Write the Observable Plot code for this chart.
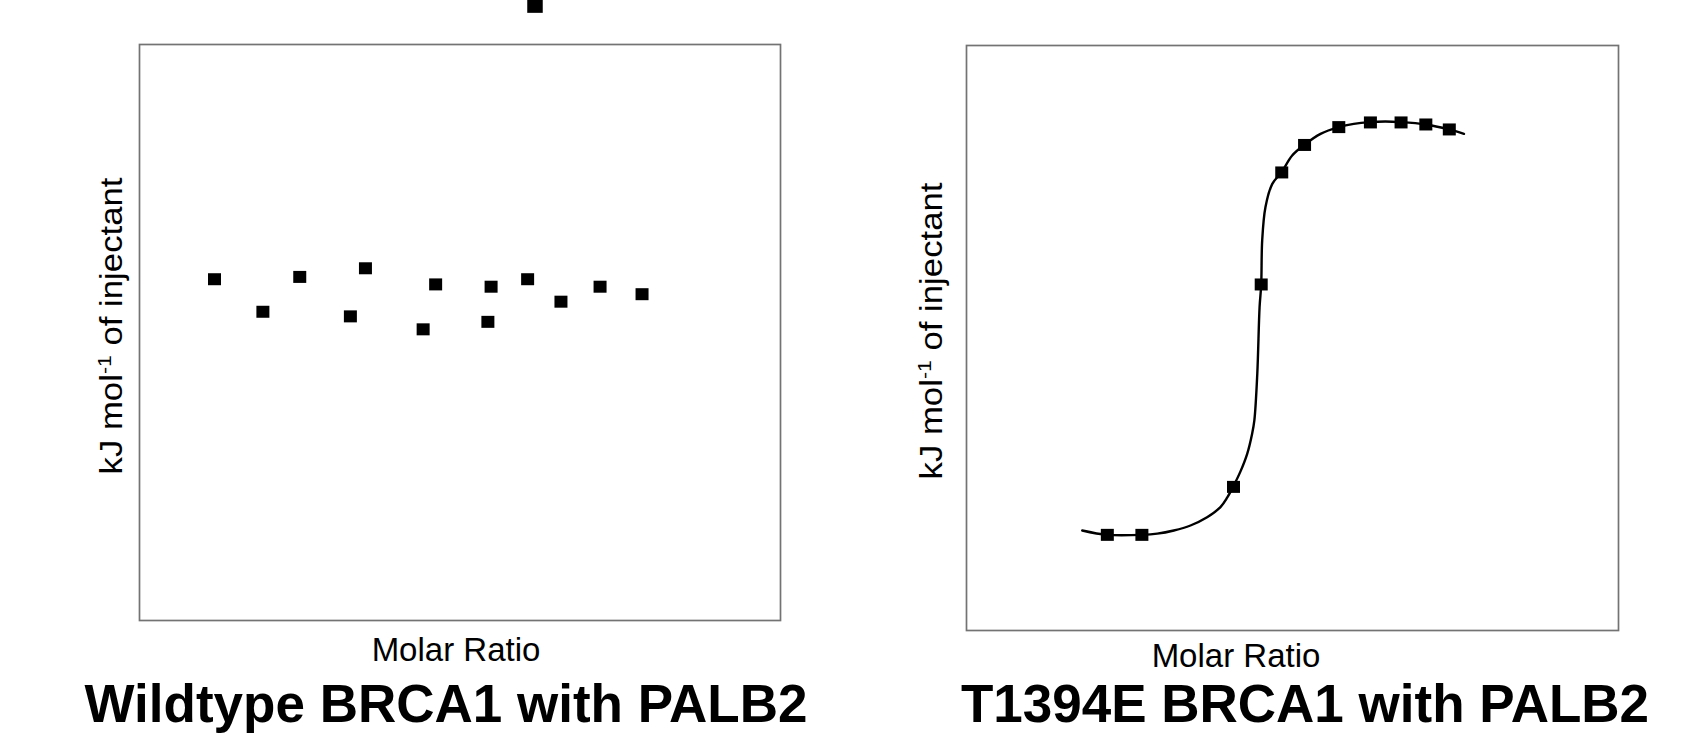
<!DOCTYPE html>
<html>
<head>
<meta charset="utf-8">
<script src="https://cdn.jsdelivr.net/npm/d3@7"></script>
<script src="https://cdn.jsdelivr.net/npm/@observablehq/plot@0.6"></script>
<style>
  html, body { margin: 0; padding: 0; background: #fff; }
  #page { position: relative; width: 1689px; height: 734px; overflow: hidden; background: #fff;
          font-family: "Liberation Sans", Arial, Helvetica, sans-serif; color: #000; }
  .abs { position: absolute; white-space: nowrap; line-height: 1; }
  .plotbox { position: absolute; top: 0; }
  .plotbox svg { max-width: none !important; overflow: visible; }
  .ylab { font-size: 31px; transform: translate(-50%, -50%) rotate(-90deg) scaleX(1.12); }
  .ylab sup { font-size: 19px; vertical-align: 0; position: relative; top: -11px; }
  .xlab { font-size: 33px; transform: translateX(-50%); }
  .title { font-size: 53px; font-weight: bold; transform: translateX(-50%); }
</style>
</head>
<body>
<div id="page"></div>
<script>
// ---- Data (no tick labels: arbitrary linear units) ----
// Wildtype BRCA1 with PALB2: injection heats
const wtMolarRatio = [0.234, 0.385, 0.500, 0.658, 0.705, 0.885, 0.924, 1.087, 1.097, 1.211, 1.315, 1.437, 1.568];
const wtHeat       = [1.85, 0.72, 1.93, 0.56, 2.23, 0.11, 1.67, 0.37, 1.59, 1.85, 1.07, 1.59, 1.33];

// fragment of a marker from a panel above (cut off at the top edge)
const strayMolarRatio = [1.234];
const strayHeat       = [11.37];

// T1394E BRCA1 with PALB2: injection heats
const mutMolarRatio = [0.432, 0.538, 0.819, 0.904, 0.967, 1.037, 1.142, 1.239, 1.333, 1.409, 1.481];
const mutHeat       = [-6.73, -6.73, -5.09, 1.83, 5.66, 6.60, 7.21, 7.37, 7.37, 7.30, 7.13];

// T1394E fitted curve
const fitMolarRatio = [0.355, 0.432, 0.539, 0.585, 0.636, 0.687, 0.738, 0.779, 0.800, 0.818, 0.8405, 0.861,
                       0.876, 0.883, 0.892, 0.899, 0.904, 0.907, 0.917, 0.938, 0.966, 0.999, 1.037, 1.086,
                       1.142, 1.188, 1.237, 1.285, 1.331, 1.408, 1.480, 1.526];
const fitHeat       = [-6.58, -6.73, -6.73, -6.69, -6.58, -6.41, -6.13, -5.78, -5.45, -5.08, -4.56, -3.96,
                       -3.28, -2.82, -1.22, 1.05, 1.83, 3.33, 4.47, 5.27, 5.66, 6.24, 6.61, 6.98,
                       7.21, 7.32, 7.38, 7.40, 7.38, 7.30, 7.13, 6.98];

const panelTitles = ["Wildtype BRCA1 with PALB2", "T1394E BRCA1 with PALB2"];
const xAxisLabel = "Molar Ratio";
const yAxisLabelMain = "kJ mol";
const yAxisLabelSup = "-1";
const yAxisLabelRest = " of injectant";

// ---- build tables ----
const wt = wtMolarRatio.map((x, i) => ({x, y: wtHeat[i]}));
const stray = strayMolarRatio.map((x, i) => ({x, y: strayHeat[i]}));
const mut = mutMolarRatio.map((x, i) => ({x, y: mutHeat[i]}));
const fit = fitMolarRatio.map((x, i) => ({x, y: fitHeat[i]}));

// filled square marker, slightly wider than tall
const squareSymbol = {
  draw(context) {
    const w = 13, h = 12;
    context.moveTo(-w / 2, -h / 2);
    context.lineTo(w / 2, -h / 2);
    context.lineTo(w / 2, h / 2);
    context.lineTo(-w / 2, h / 2);
    context.closePath();
  }
};
// the cut-off marker at the top edge (only its lower part is visible)
const clippedSquareSymbol = {
  draw(context) {
    context.moveTo(-7.75, -20);
    context.lineTo(7.75, -20);
    context.lineTo(7.75, 7.8);
    context.lineTo(-7.75, 7.8);
    context.closePath();
  }
};

const frameStyle = {stroke: "#737373", strokeWidth: 1.7};
const page = document.getElementById("page");

function addPlot(left, options) {
  const box = document.createElement("div");
  box.className = "plotbox";
  box.style.left = left + "px";
  box.appendChild(Plot.plot(options));
  page.appendChild(box);
}

// Left panel: frame at x 139..780, y 44..620
addPlot(0, {
  width: 800, height: 640,
  marginLeft: 139, marginRight: 20, marginTop: 44, marginBottom: 20,
  x: {domain: [0, 2], axis: null},
  y: {domain: [-10, 10], axis: null},
  marks: [
    Plot.frame(frameStyle),
    Plot.dot(wt, {x: "x", y: "y", symbol: squareSymbol, r: 7, fill: "#000", stroke: "none"}),
    Plot.dot(stray, {x: "x", y: "y", symbol: clippedSquareSymbol, r: 7, fill: "#000", stroke: "none"})
  ]
});

// Right panel: frame at x 966..1618, y 45..630
addPlot(946, {
  width: 743, height: 650,
  marginLeft: 20, marginRight: 71, marginTop: 45, marginBottom: 20,
  x: {domain: [0, 2], axis: null},
  y: {domain: [-10, 10], axis: null},
  marks: [
    Plot.frame(frameStyle),
    Plot.line(fit, {x: "x", y: "y", curve: "catmull-rom", stroke: "#000", strokeWidth: 2.4}),
    Plot.dot(mut, {x: "x", y: "y", symbol: squareSymbol, r: 7, fill: "#000", stroke: "none"})
  ]
});

function addText(cls, left, top, html) {
  const d = document.createElement("div");
  d.className = "abs " + cls;
  d.style.left = left + "px";
  d.style.top = top + "px";
  d.innerHTML = html;
  page.appendChild(d);
  return d;
}
const yl = yAxisLabelMain + "<sup>" + yAxisLabelSup + "</sup>" + yAxisLabelRest;
addText("ylab", 111, 326, yl);
addText("ylab", 931, 331, yl);
addText("xlab", 456, 633, xAxisLabel);
addText("xlab", 1236, 639, xAxisLabel);
addText("title", 446, 677, panelTitles[0]);
addText("title", 1305, 677, panelTitles[1]);
</script>
</body>
</html>
